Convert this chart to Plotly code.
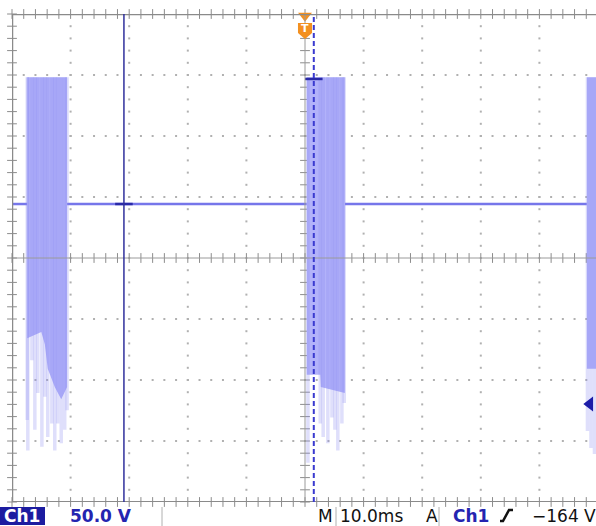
import numpy as np
import plotly.graph_objects as go

# ---------------- scope settings ----------------
T_PER_DIV = 10.0        # ms / div
V_PER_DIV = 50.0        # V / div
N_XDIV = 10
N_YDIV = 8
GROUND_DIV = 0.885      # ground level above screen centre (div)
TRIGGER_LEVEL = -164.0  # V
CURSOR_A = -30.9        # ms (solid)
CURSOR_A_LEVEL = 0.0
CURSOR_B = 1.5          # ms (dashed)
CURSOR_B_LEVEL = 102.5

# ---------------- waveform data ----------------
burst_start = [-47.4, 0.3, 48.1]
burst_end = [-40.6, 6.8, 50.5]
burst_top = [104.0, 104.0, 104.0]

core1_t = [-47.4, -45.0, -44.4, -43.9, -42.7, -41.6, -40.6]
core1_low = [-110, -105, -115, -135, -150, -160, -150]
spk1_t = [-47.4, -47.3, -46.6, -46.1, -45.6, -44.9, -44.4, -43.9, -43.2, -42.7, -42.2, -41.6, -41.0, -40.6]
spk1_low = [-177, -202, -128, -185, -155, -199, -158, -191, -180, -202, -180, -196, -185, -169]

core2_t = [0.3, 2.6, 2.7, 6.8]
core2_low = [-140, -140, -150, -155]
spk2_t = [0.5, 2.6, 3.1, 3.9, 4.6, 5.1, 5.6, 6.3, 6.7]
spk2_low = [-212, -180, -191, -196, -175, -185, -202, -180, -163]

core3_t = [48.1, 50.5]
core3_low = [-135, -135]
spk3_t = [48.2, 48.8, 49.4, 50.0]
spk3_low = [-186, -200, -205, -195]

cores = [(core1_t, core1_low), (core2_t, core2_low), (core3_t, core3_low)]
spikes = [(spk1_t, spk1_low), (spk2_t, spk2_low), (spk3_t, spk3_low)]

# ---------------- geometry ----------------
W, H = 596, 526
ML, MR, MT, MB = 12, 0, 14, 24
PW, PH = W - ML - MR, H - MT - MB
DIV_PX = 58.6
X0 = -N_XDIV / 2 * T_PER_DIV
X1 = X0 + PW / DIV_PX * T_PER_DIV
VC = -GROUND_DIV * V_PER_DIV
Y0 = VC - N_YDIV / 2 * V_PER_DIV
Y1 = VC + N_YDIV / 2 * V_PER_DIV


def pxx(x):
    return (x - ML) / PW


def pxy(y):
    return (MT + PH - y) / PH


fig = go.Figure()

GRID = "#9a9a9a"
# dotted graticule
gx, gy = [], []
minor_t = np.arange(X0, X0 + N_XDIV * T_PER_DIV + 1e-6, T_PER_DIV / 5)
minor_v = np.arange(Y0, Y1 + 1e-6, V_PER_DIV / 5)
for k in range(1, N_XDIV):
    if k == N_XDIV // 2:
        continue
    t = X0 + k * T_PER_DIV
    gx += [t] * len(minor_v)
    gy += list(minor_v)
for j in range(1, N_YDIV):
    if j == N_YDIV // 2:
        continue
    v = Y0 + j * V_PER_DIV
    gx += list(minor_t)
    gy += [v] * len(minor_t)
fig.add_trace(go.Scatter(x=gx, y=gy, mode="markers", hoverinfo="skip",
                         marker=dict(symbol="square", size=2, color="#b0b0b0")))

# centre lines
fig.add_shape(type="line", x0=0, x1=0, y0=Y0, y1=Y1, line=dict(color=GRID, width=1))
fig.add_shape(type="line", x0=X0, x1=X1, y0=VC, y1=VC, line=dict(color=GRID, width=1))
# borders
fig.add_shape(type="line", x0=X0, x1=X0, y0=Y0, y1=Y1, line=dict(color="#8a8a8a", width=2.5))
fig.add_shape(type="line", x0=X0, x1=X1, y0=Y1, y1=Y1, line=dict(color="#8a8a8a", width=2.5))
fig.add_shape(type="line", x0=X0, x1=X1, y0=Y0, y1=Y0, line=dict(color="#8a8a8a", width=2))

# ticks on centre lines and borders
fig.add_trace(go.Scatter(x=list(minor_t) * 3, y=[VC] * len(minor_t) + [Y1] * len(minor_t) + [Y0] * len(minor_t),
                         mode="markers", hoverinfo="skip", cliponaxis=False,
                         marker=dict(symbol="line-ns", size=7, line=dict(color="#8c8c8c", width=1))))
fig.add_trace(go.Scatter(x=[0] * len(minor_v) + [X0] * len(minor_v), y=list(minor_v) * 2,
                         mode="markers", hoverinfo="skip", cliponaxis=False,
                         marker=dict(symbol="line-ew", size=7, line=dict(color="#8c8c8c", width=1))))

# baseline between bursts
bx, by = [X0, burst_start[0]], [0, 0]
for i in range(len(burst_start) - 1):
    bx += [None, burst_end[i], burst_start[i + 1]]
    by += [None, 0, 0]
fig.add_trace(go.Scatter(x=bx, y=by, mode="lines", hoverinfo="skip",
                         line=dict(color="rgb(118,118,234)", width=2.5)))

# bursts: dense core
for (ct, cl), top in zip(cores, burst_top):
    px_ = list(ct) + list(ct)[::-1]
    py_ = [top] * len(ct) + list(cl)[::-1]
    fig.add_trace(go.Scatter(x=px_, y=py_, fill="toself", mode="lines", hoverinfo="skip",
                             fillcolor="rgb(178,178,250)", line=dict(width=0, color="rgb(178,178,250)")))
# bursts: individual excursions
for (st, sl), top in zip(spikes, burst_top):
    sx, sy = [], []
    for t, lo in zip(st, sl):
        sx += [t, t, None]
        sy += [top, lo, None]
    fig.add_trace(go.Scatter(x=sx, y=sy, mode="lines", hoverinfo="skip",
                             line=dict(color="rgba(140,140,242,0.28)", width=3.5)))

# cursors
fig.add_shape(type="line", x0=CURSOR_A, x1=CURSOR_A, y0=Y0, y1=Y1,
              line=dict(color="#30309c", width=1.5))
fig.add_shape(type="line", x0=CURSOR_B, x1=CURSOR_B, y0=Y0, y1=Y1,
              line=dict(color="#3a3ad0", width=2, dash="5px,3px"))
fig.add_trace(go.Scatter(x=[CURSOR_A - 1.5, CURSOR_A + 1.5, None, CURSOR_B - 1.5, CURSOR_B + 1.5],
                         y=[CURSOR_A_LEVEL, CURSOR_A_LEVEL, None, CURSOR_B_LEVEL, CURSOR_B_LEVEL],
                         mode="lines", hoverinfo="skip", line=dict(color="#2a2aa8", width=2.5)))

# trigger markers
ORANGE = "#f39020"
fig.add_trace(go.Scatter(x=[0], y=[Y1 - 1.5], mode="markers", cliponaxis=False, hoverinfo="skip",
                         marker=dict(symbol="triangle-down", size=12, color=ORANGE)))
fig.add_shape(type="path", path="M -1.2 148.4 L 1.2 148.4 L 1.2 140.2 L 0 135.2 L -1.2 140.2 Z",
              fillcolor=ORANGE, line=dict(width=0))
fig.add_annotation(x=0, y=143.5, text="<b>T</b>", showarrow=False,
                   font=dict(family="DejaVu Sans", size=11, color="white"))
fig.add_trace(go.Scatter(x=[48.6], y=[TRIGGER_LEVEL], mode="markers", cliponaxis=False, hoverinfo="skip",
                         marker=dict(symbol="triangle-left", size=13, color="#1c1ca8")))
fig.add_trace(go.Scatter(x=[X0 - 0.35], y=[0], mode="markers", cliponaxis=False, hoverinfo="skip",
                         marker=dict(symbol="triangle-right", size=7, color="#3434c0")))

# ---------------- status bar ----------------
fig.add_shape(type="rect", xref="paper", yref="paper", x0=pxx(0), x1=pxx(45), y0=pxy(525), y1=pxy(507),
              fillcolor="#1c1ca0", line=dict(width=0))
for xb in [162, 336, 439]:
    fig.add_shape(type="line", xref="paper", yref="paper", x0=pxx(xb), x1=pxx(xb), y0=pxy(526), y1=pxy(507),
                  line=dict(color="#b0b0b0", width=1))
TY = pxy(516)
FONT = "DejaVu Sans"
status = [
    (22, "<b>Ch1</b>", "white", "center"),
    (68, "<b>50.0 V</b>", "#2424b0", "left"),
    (316, "M", "#111111", "left"),
    (338, "10.0ms", "#111111", "left"),
    (424, "A", "#111111", "left"),
    (451, "<b>Ch1</b>", "#2424b0", "left"),
    (530, "\u2212164 V", "#111111", "left"),
]
for x, txt, col, anc in status:
    fig.add_annotation(xref="paper", yref="paper", x=pxx(x), y=TY, text=txt, showarrow=False,
                       xanchor=anc, yanchor="middle", font=dict(family=FONT, size=17, color=col))
# rising-edge symbol
fig.add_shape(type="path", xref="paper", yref="paper",
              path=f"M {pxx(500)} {pxy(521)} L {pxx(503)} {pxy(521)} L {pxx(509)} {pxy(510)} L {pxx(513)} {pxy(510)}",
              line=dict(color="#111111", width=2.5))

fig.update_layout(
    width=W, height=H, margin=dict(l=ML, r=MR, t=MT, b=MB),
    paper_bgcolor="white", plot_bgcolor="white", showlegend=False,
    xaxis=dict(range=[X0, X1], visible=False, fixedrange=True),
    yaxis=dict(range=[Y0, Y1], visible=False, fixedrange=True),
)
fig.write_html("out.html", config={"displayModeBar": False},
               post_script="document.body.style.margin='0';document.body.style.overflow='hidden';")
